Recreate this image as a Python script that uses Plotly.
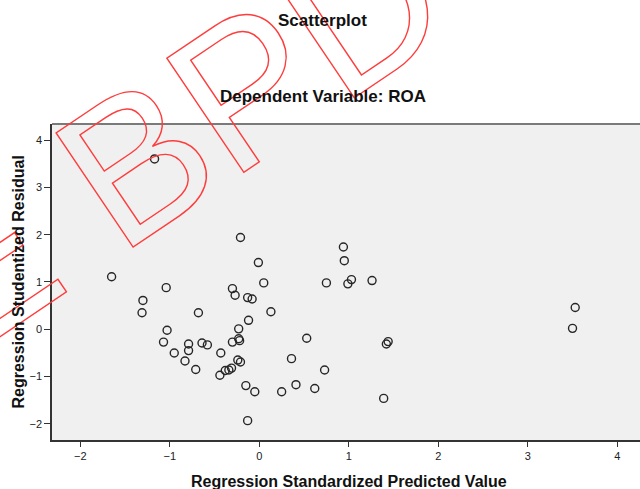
import plotly.graph_objects as go

# Regression Standardized Predicted Value
pred = [-1.17, -0.21, -0.01, -1.65, 0.05, -1.04, -0.30, -0.27, -0.13, -0.08,
        -1.30, -1.31, -0.68, 0.13, -0.12, -1.03, -0.23, -1.07, -0.79, -0.79,
        -0.64, -0.58, -0.30, -0.23, -0.22, 0.53, -0.95, -0.43, -0.83, -0.24,
        -0.21, 0.36, -0.71, -0.44, -0.38, -0.34, -0.31, -0.15, -0.05, 0.25,
        0.41, 0.62, -0.13, 3.53, 3.50, 1.44, 1.42, 0.73, 1.39, 0.94,
        0.95, 0.75, 0.99, 1.03, 1.26]
# Regression Studentized Residual
resid = [3.60, 1.94, 1.41, 1.11, 0.98, 0.88, 0.86, 0.72, 0.67, 0.64,
         0.61, 0.35, 0.35, 0.37, 0.19, -0.02, 0.01, -0.27, -0.31, -0.45,
         -0.29, -0.33, -0.27, -0.20, -0.24, -0.19, -0.50, -0.50, -0.67, -0.65,
         -0.69, -0.62, -0.85, -0.97, -0.87, -0.86, -0.82, -1.19, -1.32, -1.32,
         -1.17, -1.25, -1.93, 0.46, 0.02, -0.26, -0.31, -0.86, -1.46, 1.74,
         1.45, 0.98, 0.96, 1.05, 1.03]

x_ticks = [-2, -1, 0, 1, 2, 3, 4]
y_ticks = [-2, -1, 0, 1, 2, 3, 4]

title_main = "Scatterplot"
title_sub = "Dependent Variable: ROA"
x_title = "Regression Standardized Predicted Value"
y_title = "Regression Studentized Residual"
watermark = "E BPD"

W, H = 640, 489
ML, MR, MT, MB = 52, 0, 124, 49
PW, PH = W - ML - MR, H - MT - MB


def px2paper(px, py):
    return (px - ML) / PW, 1 - (py - MT) / PH


FONT = "Liberation Sans, Arial, sans-serif"

fig = go.Figure(
    go.Scatter(
        x=pred, y=resid, mode="markers",
        marker=dict(symbol="circle-open", size=8, color="#262626",
                    line=dict(width=1.4)),
        hoverinfo="skip",
    )
)

fig.update_layout(
    width=W, height=H,
    margin=dict(l=ML, r=MR, t=MT, b=MB, pad=0),
    plot_bgcolor="#F0F0F0", paper_bgcolor="white",
    showlegend=False,
    font=dict(family=FONT, color="#222222"),
)
fig.update_xaxes(
    range=[-2.316, 4.254], tickvals=x_ticks, ticks="outside", ticklen=5,
    tickcolor="#333333", tickwidth=1, showline=True, linecolor="#333333",
    linewidth=1.5, showgrid=False, zeroline=False,
    tickfont=dict(size=11, color="#222222", family=FONT),
)
fig.update_yaxes(
    range=[-2.339, 4.338], tickvals=y_ticks, ticks="outside", ticklen=6,
    tickcolor="#333333", tickwidth=1, showline=True, linecolor="#333333",
    linewidth=1.5, showgrid=False, zeroline=False,
    tickfont=dict(size=11, color="#222222", family=FONT),
)

fig.add_shape(type="line", xref="paper", yref="paper", x0=0, x1=1, y0=1, y1=1,
              line=dict(color="#7a7a7a", width=2))

annots = []
wx, wy = px2paper(172.8, 136.9)
annots.append(dict(text=watermark, x=wx, y=wy, xref="paper", yref="paper",
                   xanchor="center", yanchor="middle", showarrow=False,
                   textangle=-34,
                   font=dict(family=FONT, size=200, color="rgba(0,0,0,0)")))
for txt, (cx, cy), size, ang in [
    (title_main, (322.7, 20.7), 17, 0),
    (title_sub, (323.3, 96.7), 17, 0),
    (x_title, (349, 481.7), 16, 0),
    (y_title, (18, 282.5), 16, -90),
]:
    ax, ay = px2paper(cx, cy)
    annots.append(dict(text="<b>%s</b>" % txt, x=ax, y=ay, xref="paper",
                       yref="paper", xanchor="center", yanchor="middle",
                       showarrow=False, textangle=ang,
                       font=dict(family=FONT, size=size, color="#111111")))
fig.update_layout(annotations=annots)

post = """
var gd = document.getElementById('{plot_id}');
var t = gd.querySelector('g.annotation[data-index="0"] text.annotation-text');
if (t) { t.style.fill = 'none'; t.style.fillOpacity = '0';
         t.style.stroke = '#ff3c3c'; t.style.strokeWidth = '1.4px'; }
"""

fig.write_html("out.html", post_script=post,
               config={"displayModeBar": False})
